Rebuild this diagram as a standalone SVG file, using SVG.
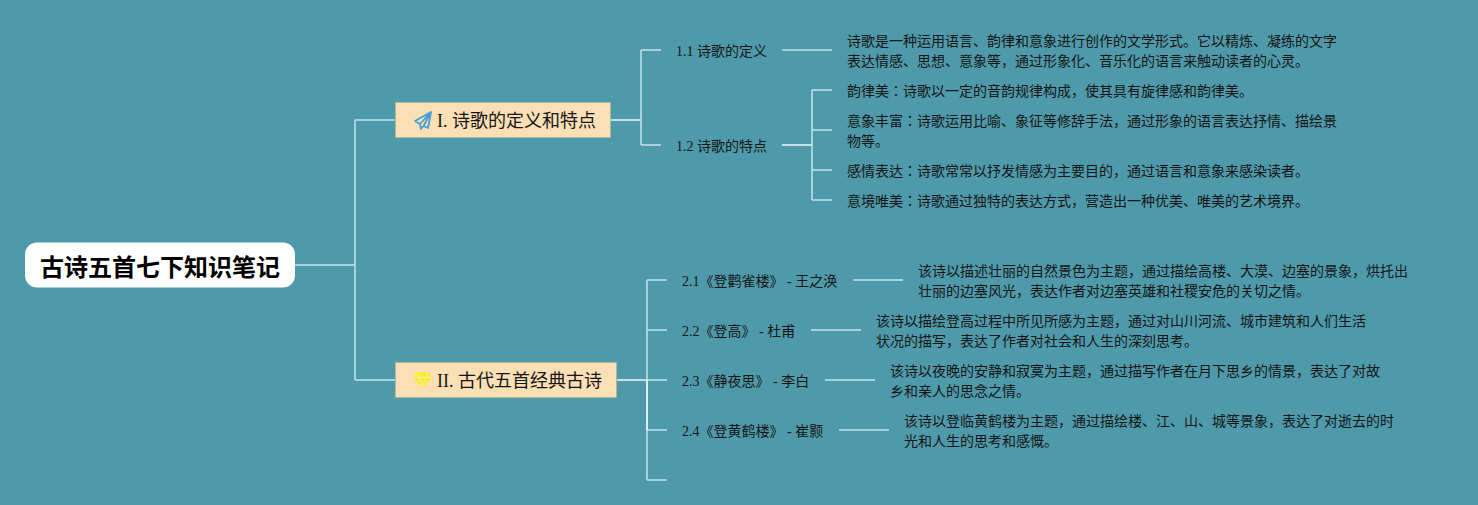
<svg xmlns="http://www.w3.org/2000/svg" width="1478" height="505" viewBox="0 0 1478 505">
<style>
text{font-family:"Liberation Serif","Noto Sans CJK JP",serif;fill:#151515}
.t{font-size:14px}
.n{font-size:18px}
.c path{fill:none;stroke:#c3e3ea;stroke-width:1.5}
.c .w{stroke:#eef8fa}
.b{fill:#fce0b5;stroke:#b8b48c;stroke-width:.6}
</style>
<rect width="1478" height="505" fill="#4f9aaa"/>
<g class="c" id="connectors">
<path d="M295 265H355M355 120V380M355 120H395M355 380H395"/>
<path class="w" d="M611 120H641"/>
<path d="M641 50V145M641 50H661M641 145H661"/>
<path d="M782 50H832"/>
<path class="w" d="M782 145H812"/>
<path d="M812 90V200M812 90H832M812 130H832M812 170H832M812 200H832"/>
<path class="w" d="M617 380H647"/>
<path d="M647 280V480M647 280H667M647 330H667M647 380H667M647 430H667M647 480H667"/>
<path class="w" d="M647 380V430"/>
<path d="M853 280H903M811 330H861M825 380H875M839 430H889"/>
</g>
<g id="root"><rect x="25" y="242.500" width="270" height="45" rx="12" fill="#fff"/><text x="40" y="276" font-size="24" font-weight="700" style="fill:#000">古诗五首七下知识笔记</text></g>
<g id="n1"><rect class="b" x="395.500" y="102.500" width="215" height="35"/>
<path d="M431 112L415 121L420 124ZM431 112L420 124L421 129L423.500 126ZM431 112L423.500 126L428 128Z" fill="none" stroke="#43a0d8" stroke-width="1.800" stroke-linejoin="round"/>
<text class="n" x="437" y="127">I. 诗歌的定义和特点</text></g>
<g id="n2"><rect class="b" x="395.500" y="362.500" width="221" height="35"/>
<path d="M417 372H428L432 377.500L422.500 388.500L413 377.500Z" fill="#f3ec3e"/>
<path d="M417.500 372.500L419.500 377.500L422.500 387L425.500 377.500L427.500 372.500M413.500 377.500H431.500" fill="none" stroke="#f8f49a" stroke-width=".9"/>
<text class="n" x="437" y="387">II. 古代五首经典古诗</text></g>
<g id="n11"><text class="t" x="676" y="56">1.1 诗歌的定义</text></g>
<g id="n12"><text class="t" x="676" y="151">1.2 诗歌的特点</text></g>
<g id="d11"><text class="t" x="847" y="46">诗歌是一种运用语言、韵律和意象进行创作的文学形式。它以精炼、凝练的文字</text><text class="t" x="847" y="66">表达情感、思想、意象等，通过形象化、音乐化的语言来触动读者的心灵。</text></g>
<g id="d12"><text class="t" x="847" y="96">韵律美：诗歌以一定的音韵规律构成，使其具有旋律感和韵律美。</text></g>
<g id="d13"><text class="t" x="847" y="126">意象丰富：诗歌运用比喻、象征等修辞手法，通过形象的语言表达抒情、描绘景</text><text class="t" x="847" y="146">物等。</text></g>
<g id="d14"><text class="t" x="847" y="176">感情表达：诗歌常常以抒发情感为主要目的，通过语言和意象来感染读者。</text></g>
<g id="d15"><text class="t" x="847" y="206">意境唯美：诗歌通过独特的表达方式，营造出一种优美、唯美的艺术境界。</text></g>
<g id="n21"><text class="t" x="682" y="286">2.1《登鹳雀楼》 - 王之涣</text></g>
<g id="n22"><text class="t" x="682" y="336">2.2《登高》 - 杜甫</text></g>
<g id="n23"><text class="t" x="682" y="386">2.3《静夜思》 - 李白</text></g>
<g id="n24"><text class="t" x="682" y="436">2.4《登黄鹤楼》 - 崔颢</text></g>
<g id="d21"><text class="t" x="918" y="276">该诗以描述壮丽的自然景色为主题，通过描绘高楼、大漠、边塞的景象，烘托出</text><text class="t" x="918" y="296">壮丽的边塞风光，表达作者对边塞英雄和社稷安危的关切之情。</text></g>
<g id="d22"><text class="t" x="876" y="326">该诗以描绘登高过程中所见所感为主题，通过对山川河流、城市建筑和人们生活</text><text class="t" x="876" y="346">状况的描写，表达了作者对社会和人生的深刻思考。</text></g>
<g id="d23"><text class="t" x="890" y="376">该诗以夜晚的安静和寂寞为主题，通过描写作者在月下思乡的情景，表达了对故</text><text class="t" x="890" y="396">乡和亲人的思念之情。</text></g>
<g id="d24"><text class="t" x="904" y="426">该诗以登临黄鹤楼为主题，通过描绘楼、江、山、城等景象，表达了对逝去的时</text><text class="t" x="904" y="446">光和人生的思考和感慨。</text></g>
</svg>
